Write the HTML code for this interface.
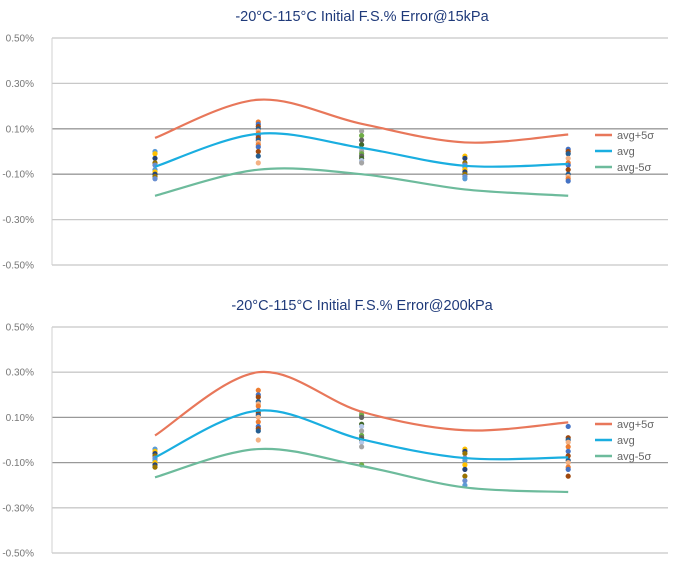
<!DOCTYPE html>
<html><head><meta charset="utf-8"><style>
body{margin:0;background:#fff;}
svg{display:block;font-family:"Liberation Sans","Noto Sans CJK SC",sans-serif;}
</style></head><body>
<svg id="svg" width="697" height="571" viewBox="0 0 697 571"></svg>
<script>
const categories = ["-20°C","25°C","60°C","85°C","115°C"];
const tickLabels = ["0.50%","0.30%","0.10%","-0.10%","-0.30%","-0.50%"];
const tickValues = [0.5,0.3,0.1,-0.1,-0.3,-0.5];
const c1Titles = "-20°C-115°C Initial F.S.% Error@15kPa";
const c2Titles = "-20°C-115°C Initial F.S.% Error@200kPa";
const c1Plus = [0.06,0.228,0.122,0.04,0.075];
const c1Avg = [-0.067,0.078,0.016,-0.063,-0.055];
const c1Minus = [-0.195,-0.08,-0.10,-0.167,-0.195];
const c1Dots = [
 [0.0,-0.01,-0.03,-0.05,-0.06,-0.08,-0.09,-0.1,-0.11,-0.12],
 [0.13,0.12,0.11,0.1,0.09,0.08,0.07,0.06,0.05,0.04,0.03,0.02,0.0,-0.02,-0.05],
 [0.09,0.07,0.05,0.03,0.01,0.0,-0.01,-0.02,-0.03,-0.04,-0.05],
 [-0.02,-0.03,-0.05,-0.06,-0.07,-0.08,-0.09,-0.1,-0.11,-0.12],
 [0.01,0.0,-0.01,-0.03,-0.05,-0.06,-0.08,-0.1,-0.11,-0.12,-0.13]
];
const c2Plus = [0.02,0.30,0.125,0.043,0.078];
const c2Avg = [-0.077,0.13,0.003,-0.08,-0.077];
const c2Minus = [-0.165,-0.04,-0.115,-0.21,-0.23];
const c2Dots = [
 [-0.04,-0.05,-0.06,-0.07,-0.08,-0.09,-0.1,-0.11,-0.12],
 [0.22,0.2,0.19,0.17,0.16,0.15,0.13,0.12,0.11,0.1,0.08,0.06,0.05,0.04,0.0],
 [0.12,0.11,0.1,0.07,0.06,0.04,0.02,0.01,0.0,-0.01,-0.03,-0.11],
 [-0.04,-0.05,-0.06,-0.08,-0.09,-0.11,-0.13,-0.16,-0.18,-0.2],
 [0.06,0.01,0.0,-0.01,-0.03,-0.05,-0.07,-0.09,-0.1,-0.12,-0.13,-0.16]
];
const dotColors=["#5b9bd5","#ed7d31","#a5a5a5","#ffc000","#4472c4","#70ad47","#264478","#9e480e","#636363","#997300","#255e91","#43682b","#698ed0","#f4b183","#b4c7e7"];
const NS="http://www.w3.org/2000/svg";
const svg=document.getElementById('svg');
function mk(tag,attrs,parent){const e=document.createElementNS(NS,tag);for(const k in attrs)e.setAttribute(k,attrs[k]);(parent||svg).appendChild(e);return e;}
function spline(pts){let d="M"+pts[0][0]+","+pts[0][1];for(let i=0;i<pts.length-1;i++){const p0=pts[Math.max(i-1,0)],p1=pts[i],p2=pts[i+1],p3=pts[Math.min(i+2,pts.length-1)];const t=6;d+=" C"+(p1[0]+(p2[0]-p0[0])/t)+","+(p1[1]+(p2[1]-p0[1])/t)+" "+(p2[0]-(p3[0]-p1[0])/t)+","+(p2[1]-(p3[1]-p1[1])/t)+" "+p2[0]+","+p2[1];}return d;}
function chart(name,title,top,bottom,plus,avg,minus,dots){
 const g=mk('g',{});
 
 
 const L=52,R=668;
 const y=v=>top+(0.5-v)/1.0*(bottom-top);
 const x=i=>155+i*103.3;
 const t=mk('text',{x:362,y:top-17,'text-anchor':'middle','font-size':14.5,fill:'#1f3a7a'},g);t.textContent=title;
 
 
 tickValues.forEach((v,i)=>{
  const ln=mk('line',{x1:L,x2:R,y1:y(v),y2:y(v),stroke:(v===0.1||v===-0.1)?'#999':'#c8c8c8','stroke-width':1.3},g);
  
  
  const tx=mk('text',{x:34,y:y(v)+3.5,'text-anchor':'end','font-size':10,fill:'#777'},g);tx.textContent=tickLabels[i];
  
  
 });
 const ax=mk('line',{x1:L,x2:L,y1:top,y2:bottom,stroke:'#d0d0d0','stroke-width':1},g);
 
 
 dots.forEach((col,i)=>col.forEach((v,j)=>{
  const c=mk('circle',{cx:x(i),cy:y(v),r:2.6,fill:dotColors[(j*3+i)%dotColors.length]},g);
  
  
 }));
 const series=[[plus,'#e8775a','avg+5σ'],[avg,'#1aaee0','avg'],[minus,'#6dbb9c','avg-5σ']];
 series.forEach((s,k)=>{
  const p=mk('path',{d:spline(s[0].map((v,i)=>[x(i),y(v)])),fill:'none',stroke:s[1],'stroke-width':2.2},g);
  
  
  const ly=top+97+k*16;
  const ll=mk('line',{x1:595,x2:612,y1:ly,y2:ly,stroke:s[1],'stroke-width':2.5},g);
  
  
  const lt=mk('text',{x:617,y:ly+4,'font-size':11,fill:'#666'},g);lt.textContent=s[2];
  
  
 });
}
chart('chart-15kpa',c1Titles,38,265,c1Plus,c1Avg,c1Minus,c1Dots);
chart('chart-200kpa',c2Titles,327,553,c2Plus,c2Avg,c2Minus,c2Dots);
</script>
</body></html>
